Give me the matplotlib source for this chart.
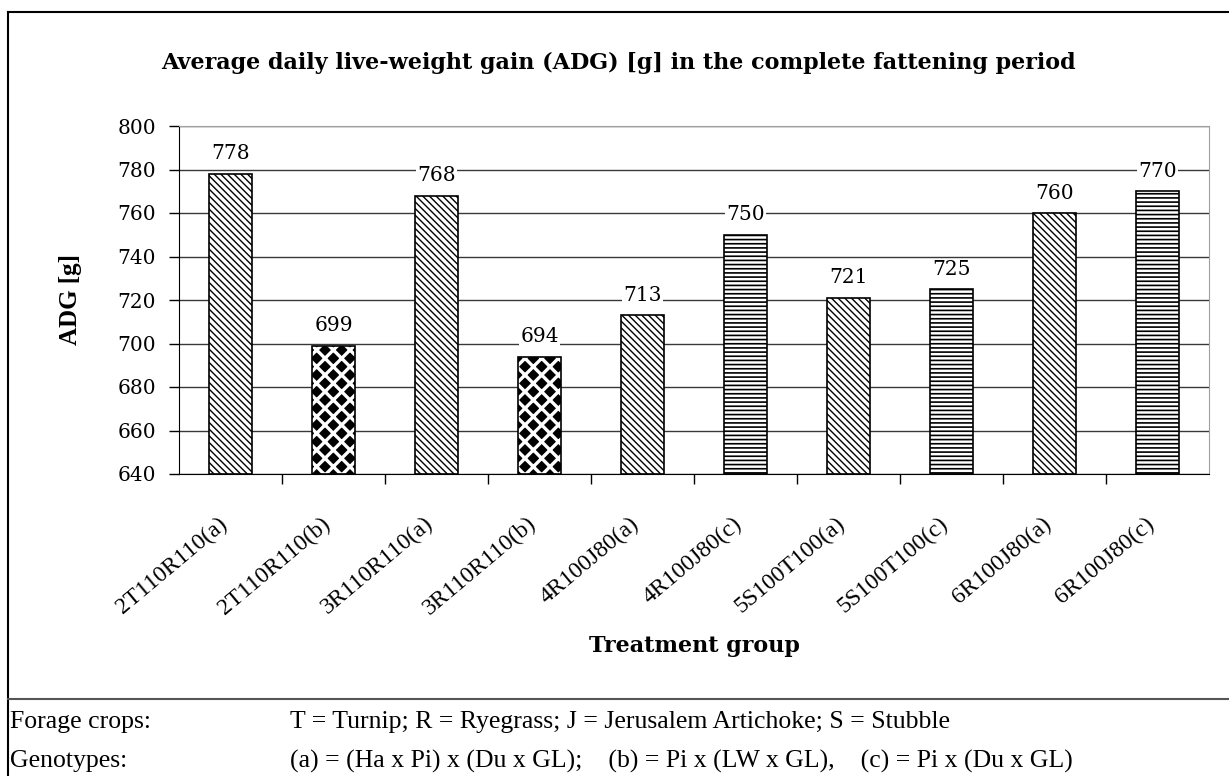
import matplotlib.pyplot as plt
import matplotlib as mpl
from matplotlib.lines import Line2D
from matplotlib.transforms import ScaledTranslation

plt.rcParams['font.family'] = ['Liberation Serif', 'DejaVu Serif']

groups = ['2T110R110(a)', '2T110R110(b)', '3R110R110(a)', '3R110R110(b)', '4R100J80(a)',
          '4R100J80(c)', '5S100T100(a)', '5S100T100(c)', '6R100J80(a)', '6R100J80(c)']
adg = [778, 699, 768, 694, 713, 750, 721, 725, 760, 770]
genotype = ['a', 'b', 'a', 'b', 'a', 'c', 'a', 'c', 'a', 'c']

W, H = 1229, 776
fig = plt.figure(figsize=(W / 100, H / 100), dpi=100)
ax = fig.add_axes([179 / W, 1 - 474 / H, 1030 / W, 348 / H])

x = list(range(len(groups)))
bw = 0.41
for i in x:
    g = genotype[i]
    if g == 'b':
        # black diamonds: white lattice on black
        with mpl.rc_context({'hatch.linewidth': 2.4}):
            ax.bar(i, adg[i] - 640, bottom=640, width=bw, color='black',
                   edgecolor='white', hatch='xx', linewidth=0, zorder=3)
    elif g == 'a':
        with mpl.rc_context({'hatch.linewidth': 1.0}):
            ax.bar(i, adg[i] - 640, bottom=640, width=bw, color='white',
                   edgecolor='black', hatch='\\\\\\\\\\', linewidth=0, zorder=3)
    else:
        with mpl.rc_context({'hatch.linewidth': 1.2}):
            ax.bar(i, adg[i] - 640, bottom=640, width=bw, color='white',
                   edgecolor='black', hatch='----', linewidth=0, zorder=3)
    ax.bar(i, adg[i] - 640, bottom=640, width=bw, fill=False,
           edgecolor='black', linewidth=1.2, zorder=4)
    ax.annotate(str(adg[i]), (i, adg[i]), xytext=(0, 7.5), textcoords='offset points',
                ha='center', va='bottom', fontsize=14.5, family='DejaVu Serif', zorder=5,
                bbox=dict(boxstyle='square,pad=0.05', fc='white', ec='none'))

ax.set_xlim(-0.5, len(groups) - 0.5)
ax.set_ylim(640, 800)
ax.set_yticks(range(640, 801, 20))
ax.set_yticklabels([str(v) for v in range(640, 801, 20)], family='DejaVu Serif', fontsize=14.5)
ax.tick_params(axis='y', length=7, width=1, pad=9.5, direction='out')
ax.yaxis.grid(True, color='#383838', linewidth=1, zorder=0)
ax.set_axisbelow(True)

ax.set_xticks(x)
ax.set_xticklabels(groups, rotation=40, ha='right', va='center', rotation_mode='anchor', fontsize=17)
ax.tick_params(axis='x', length=0, pad=34)
shift = ScaledTranslation(-6 / 100, 0, fig.dpi_scale_trans)
for lab in ax.get_xticklabels():
    lab.set_transform(lab.get_transform() + shift)
# separators between categories
ax.set_xticks([i + 0.5 for i in x[:-1]], minor=True)
ax.tick_params(axis='x', which='minor', length=7, width=1, direction='out')

ax.spines['left'].set_color('black')
ax.spines['bottom'].set_color('black')
ax.spines['top'].set_color('#a0a0a0')
ax.spines['right'].set_color('#a0a0a0')

fig.text(70 / W, 1 - 300 / H, 'ADG [g]', rotation=90, ha='center', va='center',
         fontsize=18, fontweight='bold')
fig.text(694 / W, 1 - 646 / H, 'Treatment group', ha='center', va='center',
         fontsize=16, fontweight='bold', family='DejaVu Serif')
fig.text(618 / W, 1 - 63 / H,
         'Average daily live-weight gain (ADG) [g] in the complete fattening period',
         ha='center', va='center', fontsize=16, fontweight='bold', family='DejaVu Serif')

# outer frame and footnote rows
fig.add_artist(Line2D([8 / W, 1], [1 - 12 / H, 1 - 12 / H], color='black', lw=1.5))
fig.add_artist(Line2D([8 / W, 8 / W], [0, 1 - 12 / H], color='black', lw=1.5))
fig.add_artist(Line2D([8 / W, 1], [1 - 699 / H, 1 - 699 / H], color='#555555', lw=1.5))

fig.text(10 / W, 1 - 722 / H, 'Forage crops:', fontsize=18.5, va='center')
fig.text(290 / W, 1 - 722 / H, 'T = Turnip; R = Ryegrass; J = Jerusalem Artichoke; S = Stubble',
         fontsize=18.5, va='center')
fig.text(10 / W, 1 - 761 / H, 'Genotypes:', fontsize=18.5, va='center')
fig.text(290 / W, 1 - 761 / H,
         '(a) = (Ha x Pi) x (Du x GL);    (b) = Pi x (LW x GL),    (c) = Pi x (Du x GL)',
         fontsize=18.5, va='center')

fig.savefig('out.png', dpi=100)
